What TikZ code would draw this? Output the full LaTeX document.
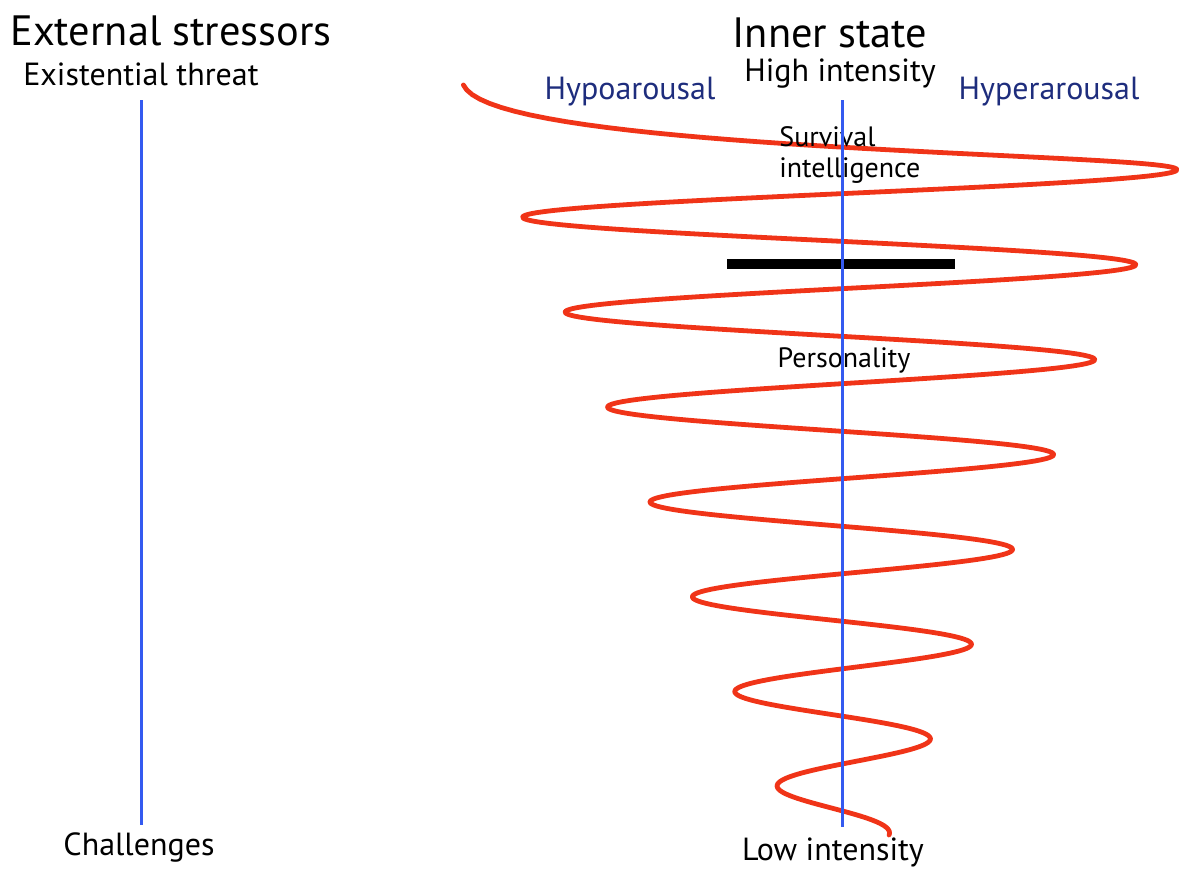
\documentclass[tikz,border=0pt]{standalone}
\usepackage{fontspec}
\setmainfont{PT Sans}
\definecolor{spiralred}{RGB}{240,52,24}
\definecolor{axisblue}{RGB}{52,90,240}
\definecolor{navy}{RGB}{30,45,125}
\begin{document}
\begin{tikzpicture}[x=0.5pt,y=-0.5pt,
	head/.style={font=\fontsize{21.2}{25}\selectfont,anchor=base},
	lab/.style={font=\fontsize{16}{19}\selectfont,anchor=base},
	small/.style={font=\fontsize{14}{15.5}\selectfont},
	axis/.style={axisblue,line width=1.5pt},
	declare function={ty(\u)=170+47.5*\u+43.5*\u*\u+81*\u*\u*\u; sy(\u)=170+47.5*\u; cx(\y)=838+0.007*\y; ax(\y)=412.6-0.44*\y;}]
	\useasboundingbox (0,0) rectangle (1179,869);
	%spiral: x = cx(y) + ax(y)*cos(t)
	\draw[spiralred,line width=2.4pt,line join=round,line cap=round]
		plot[domain=-180:0,samples=41] ({cx(ty(\x/180))+ax(ty(\x/180))*cos(\x)},{ty(\x/180)})
		-- plot[domain=0:2520,samples=561] ({cx(sy(\x/180))+ax(sy(\x/180))*cos(\x)},{sy(\x/180)});
	\coordinate (barl) at (727,264); \coordinate (barr) at (955,264);
	\draw[line width=5pt] (barl) -- (barr);
	
	\node[head] (ext) at (171,45) {External stressors};
	\node[lab] (threat) at (141,85) {Existential threat};
	\node[lab] (chal) at (139,855) {Challenges};
	\node[head] (inner) at (830,47) {Inner state};
	\node[lab] (high) at (840,81) {High intensity};
	\node[lab,navy] (hypo) at (630,99) {Hypoarousal};
	\node[lab,navy] (hyper) at (1049,99) {Hyperarousal};
	\node[small,anchor=north west,align=left,inner sep=0pt] (surv) at (779,126) {Survival\\intelligence};
	\node[small,anchor=base] (pers) at (844,367) {Personality};
	\node[lab] (low) at (833,860) {Low intensity};
	
	\coordinate (ltop) at (141,100); \coordinate (lbot) at (141,825);
	\coordinate (ctop) at (842,100); \coordinate (cbot) at (842,827);
	\draw[axis] (ltop) -- (lbot); \draw[axis] (ctop) -- (cbot);
\end{tikzpicture}
\end{document}
